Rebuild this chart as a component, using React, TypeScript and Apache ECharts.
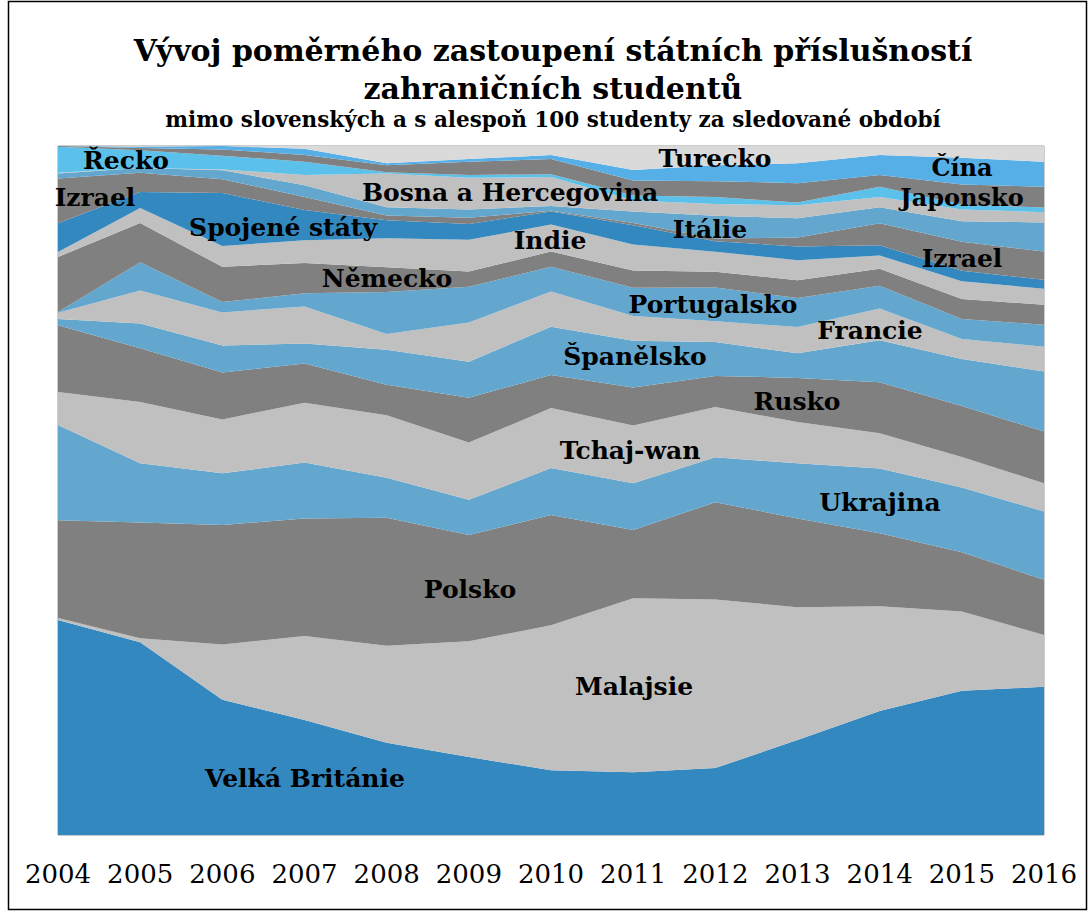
import React, { useEffect, useRef } from "react";
import * as echarts from "echarts";

const years = ["2004", "2005", "2006", "2007", "2008", "2009", "2010", "2011", "2012", "2013", "2014", "2015", "2016"];

// shares in % per year (bottom to top of the stack)
const velkaBritanie = [31.2, 28.0, 19.6, 16.7, 13.4, 11.3, 9.4, 9.1, 9.7, 13.8, 18.0, 20.9, 21.5];
const malajsie = [0.3, 0.6, 8.0, 12.2, 14.1, 16.8, 21.0, 25.3, 24.4, 19.3, 15.2, 11.5, 7.5];
const polsko = [14.2, 16.8, 17.3, 17.1, 18.6, 15.4, 16.0, 9.9, 14.1, 12.9, 10.6, 8.6, 8.0];
const ukrajina = [13.8, 8.6, 7.5, 8.1, 5.8, 5.1, 6.8, 6.8, 6.5, 8.0, 9.4, 9.4, 9.9];
const tchajwan = [4.8, 8.9, 7.8, 8.7, 9.1, 8.3, 8.7, 8.4, 7.3, 6.0, 5.1, 4.4, 4.1];
const rusko = [9.7, 7.8, 6.8, 5.7, 4.4, 6.5, 4.8, 5.5, 4.5, 6.4, 7.4, 7.4, 7.5];
const spanelsko = [0.9, 3.6, 3.9, 2.9, 5.1, 5.2, 7.0, 6.8, 4.9, 3.6, 6.1, 6.8, 8.7];
const francie = [0.9, 4.8, 4.8, 5.4, 2.3, 5.7, 5.1, 3.6, 3.0, 3.8, 4.6, 2.9, 3.6];
const portugalsko = [0.1, 4.1, 1.5, 1.9, 6.1, 5.2, 3.6, 4.1, 4.9, 4.2, 3.3, 2.9, 3.2];
const nemecko = [8.0, 5.7, 5.1, 4.4, 3.6, 2.2, 2.2, 2.5, 2.3, 2.6, 2.5, 2.9, 2.9];
const indie = [0.7, 2.2, 3.0, 3.3, 4.2, 4.6, 3.9, 3.8, 2.9, 2.9, 1.9, 2.6, 2.3];
const spojeneStaty = [4.2, 2.3, 7.7, 4.4, 2.6, 2.3, 1.9, 2.8, 1.5, 2.0, 1.5, 1.5, 1.3];
const izrael = [6.5, 2.8, 2.0, 1.9, 0.7, 0.9, 0.1, 0.3, 0.4, 1.3, 3.2, 4.2, 4.1];
const italie = [0.7, 0.7, 1.3, 1.7, 1.2, 1.2, 0.7, 1.7, 3.3, 2.8, 2.3, 3.0, 4.2];
const bosna = [0.1, 0.0, 0.1, 1.5, 4.9, 4.6, 4.2, 1.6, 1.7, 1.9, 1.5, 1.7, 1.5];
const recko = [3.8, 2.6, 2.0, 1.9, 0.2, 0.4, 0.4, 0.7, 1.0, 0.4, 1.5, 0.7, 0.7];
const japonsko = [0.1, 0.3, 0.9, 1.0, 1.0, 1.9, 2.2, 2.2, 2.3, 2.8, 1.7, 2.9, 3.0];
const cina = [0.0, 0.2, 0.5, 0.9, 0.3, 0.4, 0.6, 1.5, 2.3, 2.9, 2.9, 3.9, 3.6];
const turecko = [0.0, 0.1, 0.0, 0.4, 2.5, 1.9, 1.3, 3.5, 2.8, 2.5, 1.3, 1.7, 2.3];

const DB = "#3288bf";
const LG = "#c0c0c0";
const DG = "#808080";
const MB = "#63a7cf";

const seriesDefs = [
  { name: "Velká Británie", data: velkaBritanie, color: DB },
  { name: "Malajsie", data: malajsie, color: LG },
  { name: "Polsko", data: polsko, color: DG },
  { name: "Ukrajina", data: ukrajina, color: MB },
  { name: "Tchaj-wan", data: tchajwan, color: LG },
  { name: "Rusko", data: rusko, color: DG },
  { name: "Španělsko", data: spanelsko, color: MB },
  { name: "Francie", data: francie, color: LG },
  { name: "Portugalsko", data: portugalsko, color: MB },
  { name: "Německo", data: nemecko, color: DG },
  { name: "Indie", data: indie, color: LG },
  { name: "Spojené státy", data: spojeneStaty, color: DB },
  { name: "Izrael", data: izrael, color: DG },
  { name: "Itálie", data: italie, color: MB },
  { name: "Bosna a Hercegovina", data: bosna, color: LG },
  { name: "Řecko", data: recko, color: "#5cc1ea" },
  { name: "Japonsko", data: japonsko, color: DG },
  { name: "Čína", data: cina, color: "#56afe7" },
  { name: "Turecko", data: turecko, color: "#dadada" },
];

const labels = [
  { text: "Řecko", x: 126, y: 160, size: 25 },
  { text: "Izrael", x: 95, y: 197, size: 25 },
  { text: "Spojené státy", x: 283, y: 227, size: 25 },
  { text: "Bosna a Hercegovina", x: 510, y: 192, size: 25 },
  { text: "Turecko", x: 715, y: 158, size: 25 },
  { text: "Čína", x: 962, y: 167, size: 24 },
  { text: "Japonsko", x: 962, y: 197, size: 24 },
  { text: "Indie", x: 550, y: 240, size: 25 },
  { text: "Itálie", x: 710, y: 229, size: 25 },
  { text: "Izrael", x: 962, y: 258, size: 25 },
  { text: "Německo", x: 387, y: 278, size: 25 },
  { text: "Portugalsko", x: 713, y: 304, size: 25 },
  { text: "Francie", x: 870, y: 330, size: 25 },
  { text: "Španělsko", x: 635, y: 356, size: 25 },
  { text: "Rusko", x: 797, y: 401, size: 25 },
  { text: "Tchaj-wan", x: 630, y: 450, size: 25 },
  { text: "Ukrajina", x: 880, y: 502, size: 25 },
  { text: "Polsko", x: 470, y: 589, size: 25 },
  { text: "Malajsie", x: 634, y: 686, size: 25 },
  { text: "Velká Británie", x: 305, y: 778, size: 25 },
];

const FONT = '"DejaVu Serif", "Liberation Serif", serif';

export default function App() {
  const ref = useRef<HTMLDivElement>(null);
  useEffect(() => {
    if (!ref.current) return;
    const chart = echarts.init(ref.current, undefined, { renderer: "svg" });
    const totals = years.map((_, i) => seriesDefs.reduce((s, d) => s + d.data[i], 0));
    const series = seriesDefs.map((d) => ({
      name: d.name,
      type: "line",
      stack: "all",
      data: d.data.map((v, i) => (v / totals[i]) * 100),
      symbol: "none",
      showSymbol: false,
      lineStyle: { width: 0 },
      areaStyle: { color: d.color, opacity: 1 },
      itemStyle: { color: d.color },
      emphasis: { disabled: true },
      silent: true,
    }));
    chart.setOption({
      animation: false,
      backgroundColor: "#fff",
      grid: {
        left: 58,
        right: 47,
        top: 146,
        bottom: 78,
        show: true,
        borderColor: "#999",
        borderWidth: 1,
        backgroundColor: "transparent",
      },
      xAxis: {
        type: "category",
        data: years,
        boundaryGap: false,
        axisLine: { show: false },
        axisTick: { show: false },
        splitLine: { show: false },
        axisLabel: { color: "#000", fontFamily: FONT, fontSize: 26, margin: 26, interval: 0, hideOverlap: false },
      },
      yAxis: {
        type: "value",
        min: 0,
        max: 100,
        show: false,
        splitLine: { show: false },
      },
      series,
      graphic: [
        {
          type: "rect",
          shape: { x: 8.5, y: 1.5, width: 1078, height: 908 },
          style: { fill: "none", stroke: "#000", lineWidth: 1.5 },
          silent: true,
        },
        {
          type: "text",
          x: 553,
          y: 50,
          style: { text: "Vývoj poměrného zastoupení státních příslušností", font: `bold 30px ${FONT}`, fill: "#000", align: "center", verticalAlign: "middle" },
        },
        {
          type: "text",
          x: 553,
          y: 88,
          style: { text: "zahraničních studentů", font: `bold 30px ${FONT}`, fill: "#000", align: "center", verticalAlign: "middle" },
        },
        {
          type: "text",
          x: 553,
          y: 119,
          style: { text: "mimo slovenských a s alespoň 100 studenty za sledované období", font: `bold 21.5px ${FONT}`, fill: "#000", align: "center", verticalAlign: "middle" },
        },
        ...labels.map((l) => ({
          type: "text",
          x: l.x,
          y: l.y,
          z: 100,
          style: { text: l.text, font: `bold ${l.size}px ${FONT}`, lineHeight: l.size, fill: "#000", align: "center", verticalAlign: "middle" },
        })),
      ],
    });
    return () => chart.dispose();
  }, []);
  return (
    <div style={{ position: "fixed", left: 0, top: 0, width: 1091, height: 913, background: "#fff" }}>
      <div ref={ref} style={{ width: 1091, height: 913 }} />
    </div>
  );
}
